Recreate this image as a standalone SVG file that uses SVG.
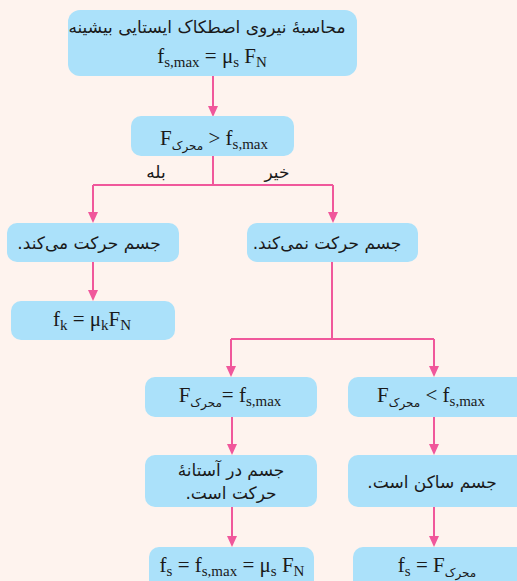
<svg xmlns="http://www.w3.org/2000/svg" width="517" height="581" viewBox="0 0 517 581">
<defs>
<style>
.box{fill:#abe1fa;}
.ln{fill:none;stroke:#f0579b;stroke-width:2;}
.fa{font-family:"DejaVu Sans",sans-serif;font-size:17px;fill:#1a1a1a;text-anchor:middle;direction:rtl;}
.m{font-family:"Liberation Serif","Times New Roman",serif;font-size:21px;fill:#1a1a1a;text-anchor:middle;}
.s{font-size:15px;}
.sf{font-family:"DejaVu Sans",sans-serif;font-size:12px;}
</style>
</defs>
<rect width="517" height="581" fill="#fef3ee"/>
<g id="connectors">
<path class="ln" d="M213,76 V108"/>
<path class="ln" d="M213,156 V185 M93,185 H333"/>
<path class="ln" d="M93,185 V214"/>
<path class="ln" d="M333,185 V214"/>
<path class="ln" d="M93,262 V292"/>
<path class="ln" d="M332,262 V339 M231,339 H434"/>
<path class="ln" d="M231,339 V368"/>
<path class="ln" d="M434,339 V368"/>
<path class="ln" d="M232,417 V446"/>
<path class="ln" d="M434,417 V446"/>
<path class="ln" d="M232,507 V538"/>
<path class="ln" d="M434,507 V538"/>
<g fill="#f0579b">
<path d="M208,106 L218,106 L213,117 Z"/>
<path d="M88,212 L98,212 L93,223 Z"/>
<path d="M328,212 L338,212 L333,223 Z"/>
<path d="M88,290 L98,290 L93,301 Z"/>
<path d="M226,366 L236,366 L231,377 Z"/>
<path d="M429,366 L439,366 L434,377 Z"/>
<path d="M227,444 L237,444 L232,455 Z"/>
<path d="M429,444 L439,444 L434,455 Z"/>
<path d="M227,536 L237,536 L232,547 Z"/>
<path d="M429,536 L439,536 L434,547 Z"/>
</g>
<text class="fa" x="156" y="178" font-size="16">بله</text>
<text class="fa" x="277" y="178" font-size="16">خیر</text>
</g>
<g id="n1">
<rect class="box" x="68" y="10" width="289" height="66" rx="12"/>
<text class="fa" x="207" y="33" font-size="16.5">محاسبهٔ نیروی اصطکاک ایستایی بیشینه</text>
<text class="m" x="212" y="63">f<tspan class="s" dy="4">s,max</tspan><tspan dy="-4"> = μ</tspan><tspan class="s" dy="4">s</tspan><tspan dy="-4"> F</tspan><tspan class="s" dy="4">N</tspan></text>
</g>
<g id="n2">
<rect class="box" x="131" y="116" width="163" height="40" rx="10"/>
<text class="m" x="214" y="145">F<tspan class="sf" dy="5">محرک</tspan><tspan dy="-5"> &gt; f</tspan><tspan class="s" dy="4">s,max</tspan></text>
</g>
<g id="n3">
<rect class="box" x="7" y="223" width="172" height="39" rx="10"/>
<text class="fa" x="89" y="249">جسم حرکت می‌کند.</text>
</g>
<g id="n4">
<rect class="box" x="247" y="223" width="171" height="39" rx="10"/>
<text class="fa" x="327" y="249">جسم حرکت نمی‌کند.</text>
</g>
<g id="n5">
<rect class="box" x="11" y="301" width="164" height="39" rx="10"/>
<text class="m" x="92" y="326">f<tspan class="s" dy="4">k</tspan><tspan dy="-4"> = μ</tspan><tspan class="s" dy="4">k</tspan><tspan dy="-4">F</tspan><tspan class="s" dy="4">N</tspan></text>
</g>
<g id="n6">
<rect class="box" x="145" y="377" width="172" height="40" rx="10"/>
<text class="m" x="230" y="402">F<tspan class="sf" dy="5">محرک</tspan><tspan dy="-5">= f</tspan><tspan class="s" dy="4">s,max</tspan></text>
</g>
<g id="n7">
<rect class="box" x="348" y="377" width="180" height="40" rx="10"/>
<text class="m" x="431" y="402">F<tspan class="sf" dy="5">محرک</tspan><tspan dy="-5"> &lt; f</tspan><tspan class="s" dy="4">s,max</tspan></text>
</g>
<g id="n8">
<rect class="box" x="145" y="455" width="172" height="52" rx="10"/>
<text class="fa" x="231" y="476">جسم در آستانهٔ</text>
<text class="fa" x="231" y="499">حرکت است.</text>
</g>
<g id="n9">
<rect class="box" x="348" y="455" width="180" height="52" rx="10"/>
<text class="fa" x="432" y="488">جسم ساکن است.</text>
</g>
<g id="n10">
<rect class="box" x="149" y="547" width="165" height="45" rx="10"/>
<text class="m" x="232" y="572">f<tspan class="s" dy="4">s</tspan><tspan dy="-4"> = f</tspan><tspan class="s" dy="4">s,max</tspan><tspan dy="-4"> = μ</tspan><tspan class="s" dy="4">s</tspan><tspan dy="-4"> F</tspan><tspan class="s" dy="4">N</tspan></text>
</g>
<g id="n11">
<rect class="box" x="353" y="547" width="175" height="45" rx="10"/>
<text class="m" x="437" y="572">f<tspan class="s" dy="4">s</tspan><tspan dy="-4"> = F</tspan><tspan class="sf" dy="5">محرک</tspan></text>
</g>
</svg>
